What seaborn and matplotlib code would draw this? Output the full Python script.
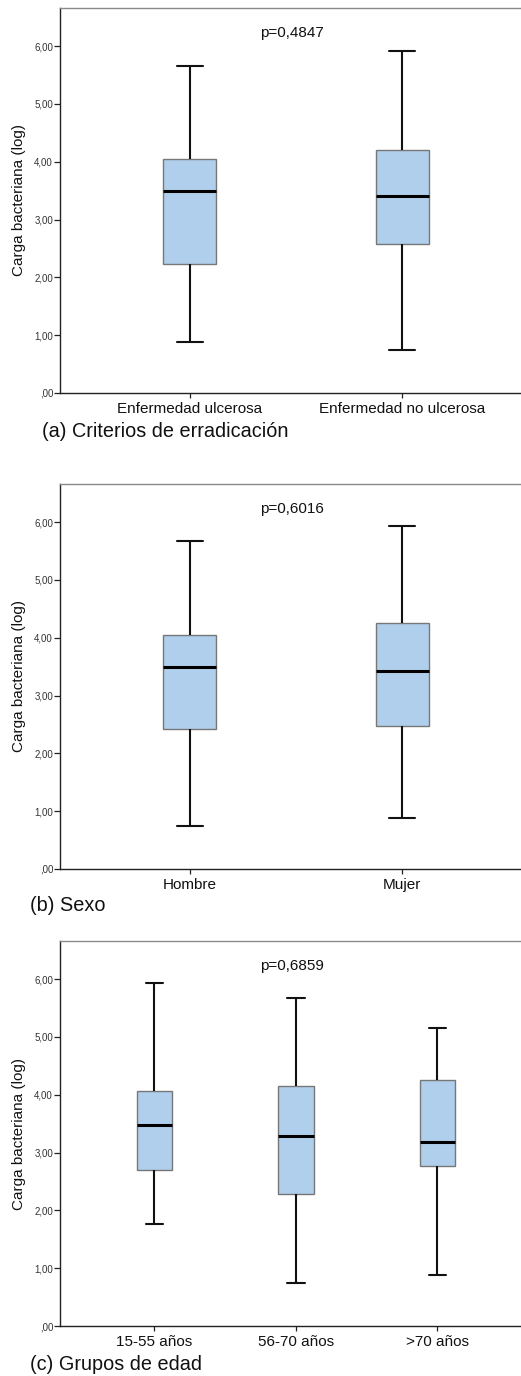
import numpy as np
import pandas as pd
import matplotlib
matplotlib.use("Agg")
import matplotlib.pyplot as plt
import seaborn as sns

# Five-number summaries (whisker low, Q1, median, Q3, whisker high) per group
cats_a = ["Enfermedad ulcerosa", "Enfermedad no ulcerosa"]
low_a = [0.88, 0.74]
q1_a = [2.24, 2.58]
med_a = [3.49, 3.40]
q3_a = [4.05, 4.21]
high_a = [5.66, 5.92]
p_a = "p=0,4847"

cats_b = ["Hombre", "Mujer"]
low_b = [0.75, 0.89]
q1_b = [2.42, 2.47]
med_b = [3.50, 3.42]
q3_b = [4.04, 4.25]
high_b = [5.68, 5.93]
p_b = "p=0,6016"

cats_c = ["15-55 años", "56-70 años", ">70 años"]
low_c = [1.76, 0.745, 0.88]
q1_c = [2.70, 2.29, 2.77]
med_c = [3.48, 3.29, 3.18]
q3_c = [4.06, 4.15, 4.26]
high_c = [5.93, 5.68, 5.15]
p_c = "p=0,6859"

y_ticks = [0, 1, 2, 3, 4, 5, 6]
y_tick_labels = [",00", "1,00", "2,00", "3,00", "4,00", "5,00", "6,00"]
y_label = "Carga bacteriana (log)"
captions = ["(a) Criterios de erradicación", "(b) Sexo", "(c) Grupos de edad"]

BOX_FILL = "#AFCFEC"
W, H = 521, 1376

sns.set_style("ticks")
plt.rcParams["font.family"] = ["Liberation Sans", "DejaVu Sans"]

fig = plt.figure(figsize=(W / 100, H / 100), dpi=100)


def px_rect(left, top, right, bottom):
    return [left / W, 1 - bottom / H, (right - left) / W, (bottom - top) / H]


def panel(rect, cats, low, q1, med, q3, high, ptext, xlim):
    # Each group is represented by its five summary values; with whiskers at
    # the 0/100 percentiles the box and whiskers land exactly on them.
    rows = []
    for c, a, b, m, d, e in zip(cats, low, q1, med, q3, high):
        for v in (a, b, m, d, e):
            rows.append((c, v))
    df = pd.DataFrame(rows, columns=["grupo", "carga"])

    ax = fig.add_axes(rect)
    sns.boxplot(
        data=df, x="grupo", y="carga", order=cats, whis=(0, 100),
        width=0.25, color=BOX_FILL, saturation=1, showfliers=False,
        linewidth=1.0,
        boxprops=dict(edgecolor="#777777", linewidth=1.0),
        whiskerprops=dict(color="#111111", linewidth=1.5),
        capprops=dict(color="#111111", linewidth=1.5),
        medianprops=dict(color="#000000", linewidth=2.2),
        ax=ax,
    )
    ax.set_xlim(*xlim)
    ax.set_ylim(0, 6.66)
    ax.set_yticks(y_ticks)
    ax.set_yticklabels(y_tick_labels, fontsize=7, color="#333333")
    ax.tick_params(axis="y", length=4.5, width=0.9, pad=0.5, color="#222222")
    ax.tick_params(axis="x", length=3.3, width=0.9, pad=3.5, labelsize=11,
                   color="#222222", labelcolor="#111111")
    ax.set_xlabel("")
    ax.set_ylabel(y_label, fontsize=11, color="#111111", va="center")
    ax.yaxis.set_label_coords(-0.088, 0.5)
    ax.spines["right"].set_visible(False)
    ax.spines["top"].set_color("#8a8a8a")
    ax.spines["top"].set_linewidth(1.0)
    for s in ("left", "bottom"):
        ax.spines[s].set_color("#222222")
        ax.spines[s].set_linewidth(1.0)
    ax.text(0.504, 0.925, ptext, transform=ax.transAxes, ha="center",
            va="baseline", fontsize=11, color="#111111")
    return ax


panel(px_rect(60, 8, 521, 393), cats_a, low_a, q1_a, med_a, q3_a, high_a,
      p_a, (-0.613, 1.561))
panel(px_rect(60, 484, 521, 869), cats_b, low_b, q1_b, med_b, q3_b, high_b,
      p_b, (-0.613, 1.561))
panel(px_rect(60, 941, 521, 1326), cats_c, low_c, q1_c, med_c, q3_c, high_c,
      p_c, (-0.667, 2.59))

fig.text(42 / W, 1 - 437 / H, captions[0], fontsize=14.3, color="#111111",
         ha="left", va="baseline")
fig.text(30 / W, 1 - 911 / H, captions[1], fontsize=14.3, color="#111111",
         ha="left", va="baseline")
fig.text(30 / W, 1 - 1370 / H, captions[2], fontsize=14.3, color="#111111",
         ha="left", va="baseline")

fig.savefig("out.png", dpi=100)
